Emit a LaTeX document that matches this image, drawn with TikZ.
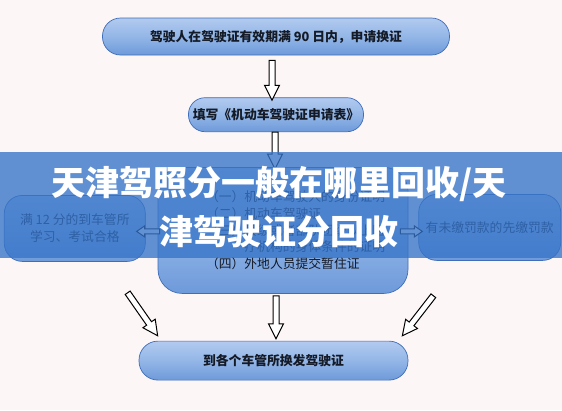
\documentclass[tikz,border=0pt]{standalone}
\usepackage{fontspec}
\setmainfont{Noto Sans CJK SC}
\newfontfamily\heavyfont{Noto Sans CJK SC Black}
\usetikzlibrary{positioning,calc}
\definecolor{paper}{HTML}{FCF6F6}
\definecolor{pillTop}{HTML}{B2CAEF}
\definecolor{pillMid}{HTML}{93B6E7}
\definecolor{pillBot}{HTML}{6E9ADA}
\definecolor{pillEdge}{HTML}{3F6DB8}
\definecolor{banner}{HTML}{3674C8}
\definecolor{ink}{HTML}{141A26}
\tikzset{
  pill/.style={rectangle, rounded corners=#1, draw=pillEdge, line width=0.7pt,
               top color=pillTop, bottom color=pillBot, middle color=pillMid,
               align=center, text=ink, inner sep=0pt},
  boldtext/.style={font=\bfseries\fontsize{12.8}{15}\selectfont},
  plaintext/.style={font=\fontsize{12.8}{16.7}\selectfont},
  hollow/.style n args={3}{draw=black, fill=white, line width=1pt, line join=miter,
    to path={($(\tikztostart)!#1!90:(\tikztotarget)$)
      -- ($(\tikztotarget)!#3!(\tikztostart)!#1!90:(\tikztotarget)$)
      -- ($(\tikztotarget)!#3!(\tikztostart)!#2!90:(\tikztotarget)$)
      -- (\tikztotarget)
      -- ($(\tikztotarget)!#3!(\tikztostart)!#2!-90:(\tikztotarget)$)
      -- ($(\tikztotarget)!#3!(\tikztostart)!#1!-90:(\tikztotarget)$)
      -- ($(\tikztostart)!#1!-90:(\tikztotarget)$) -- cycle}},
  bigarrow/.style={hollow={3pt}{7.5pt}{15pt}},
  smallarrow/.style={hollow={2.5pt}{5.5pt}{8pt}},
  title/.style={font=\heavyfont\fontsize{34}{49}\selectfont, text=white, align=center}
}

\begin{document}
\begin{tikzpicture}[x=1pt, y=-1pt]
\fill[paper] (0,0) rectangle (562,410);
\useasboundingbox (0,0) rectangle (562,410);

% flow boxes
\node[pill=18pt, minimum width=347pt, minimum height=37pt, boldtext] (apply) at (276,36.5)
  {驾驶人在驾驶证有效期满 90 日内，申请换证};
\node[pill=16.5pt, minimum width=175pt, minimum height=34pt, boldtext, below=42pt of apply] (form)
  {填写《机动车驾驶证申请表》};
\node[pill=24pt, minimum width=250pt, minimum height=126pt, below=35pt of form, xshift=7pt] (docs) {};
\node[plaintext, text width=184pt, align=left, text=ink] (docstext) at ([xshift=15pt]docs.center)
  {（一）机动车驾驶人的身份证明\\（二）机动车驾驶证\\（三）县级或者部队团级以上医\\
   \hspace*{3em}疗机构的身体条件的证明\\（四）外地人员提交暂住证};
\node[pill=18pt, minimum width=141pt, minimum height=66pt, plaintext, left=12pt of docs, yshift=2pt] (study)
  {满 12 分的到车管所\\学习、考试合格};
\node[pill=18pt, minimum width=142pt, minimum height=66pt, plaintext, right=10pt of docs, yshift=3pt] (fines)
  {有未缴罚款的先缴罚款};
\node[pill=19pt, minimum width=269pt, minimum height=39pt, boldtext, below=47pt of docs, xshift=-9.5pt] (issue)
  {到各个车管所换发驾驶证};

% hollow arrows
\draw[bigarrow] ([xshift=-4pt,yshift=-5pt]apply.south) to ([xshift=-4pt,yshift=-3pt]form.north);
\draw[bigarrow] ([xshift=-1pt]form.south) to ([xshift=-8pt,yshift=-2pt]docs.north);
\draw[smallarrow] ([xshift=2pt,yshift=-1pt]docs.west) to ([xshift=-9pt,yshift=-3pt]study.east);
\draw[smallarrow] ([xshift=-8pt,yshift=-1pt]docs.east) to ([xshift=4pt,yshift=-4pt]fines.west);
\draw[bigarrow] ([xshift=-7pt,yshift=-2pt]docs.south) to ([xshift=2.5pt,yshift=2pt]issue.north);
\draw[bigarrow] ([xshift=-18pt,yshift=-31pt]study.south east) to ([xshift=19pt,yshift=5pt]issue.north west);
\draw[bigarrow] ([xshift=15pt,yshift=-35pt]fines.south west) to ([xshift=-6pt,yshift=5pt]issue.north east);

% title band
\fill[banner, opacity=0.78] (0,152) rectangle (562,258);
\node[title] (headline) at (279,207.5) {天津驾照分一般在哪里回收/天\\津驾驶证分回收};
\end{tikzpicture}
\end{document}
